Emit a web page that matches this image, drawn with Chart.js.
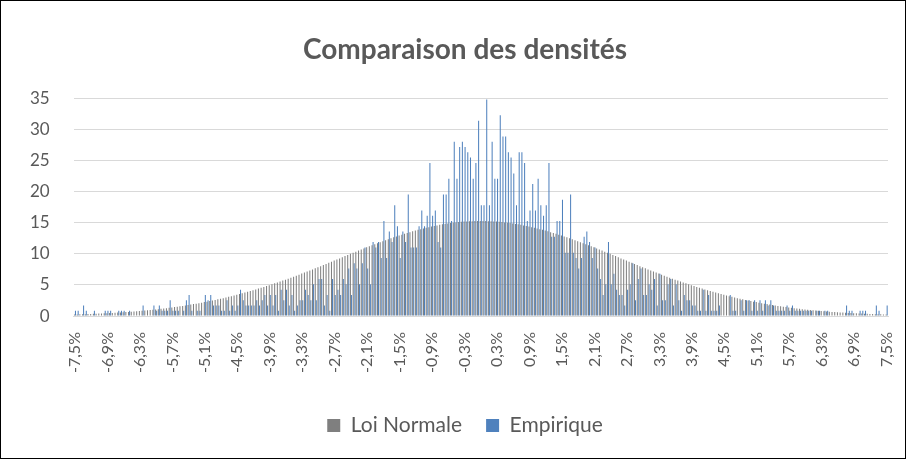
<!DOCTYPE html>
<html>
<head>
<meta charset="utf-8">
<script src="https://cdn.jsdelivr.net/npm/chart.js"></script>
<style>
  html, body { margin: 0; padding: 0; background: #fff; }
  #wrap { width: 906px; height: 459px; box-sizing: border-box; border: 1px solid #000; }
  canvas { display: block; }
</style>
</head>
<body>
<div id="wrap"><canvas id="densites" width="904" height="457"></canvas></div>
<script>
// Rendements de -7,5% a 7,5% par pas de 0,05% (301 classes)
const categories = [];
for (let i = 0; i <= 300; i++) categories.push(((-750 + i * 5) / 100).toFixed(2));

// Etiquettes visibles (une sur 12)
const tickLabels = ['-7,5%', '-6,9%', '-6,3%', '-5,7%', '-5,1%', '-4,5%', '-3,9%', '-3,3%', '-2,7%',
  '-2,1%', '-1,5%', '-0,9%', '-0,3%', '0,3%', '0,9%', '1,5%', '2,1%', '2,7%', '3,3%', '3,9%',
  '4,5%', '5,1%', '5,7%', '6,3%', '6,9%', '7,5%'];

// Densite de la loi normale
const loiNormale = [
  0.24,0.25,0.27,0.28,0.30,0.31,0.33,0.35,0.37,0.39,
  0.41,0.43,0.45,0.48,0.50,0.52,0.55,0.58,0.61,0.64,
  0.67,0.70,0.74,0.77,0.81,0.85,0.89,0.93,0.98,1.02,
  1.07,1.11,1.16,1.21,1.27,1.32,1.38,1.44,1.50,1.57,
  1.63,1.70,1.77,1.84,1.92,1.99,2.07,2.15,2.24,2.32,
  2.41,2.50,2.59,2.69,2.78,2.88,2.98,3.09,3.20,3.31,
  3.42,3.54,3.65,3.77,3.90,4.02,4.15,4.28,4.42,4.55,
  4.69,4.83,4.97,5.11,5.26,5.41,5.56,5.71,5.86,6.02,
  6.18,6.34,6.50,6.66,6.83,6.99,7.16,7.33,7.50,7.68,
  7.85,8.03,8.20,8.38,8.56,8.74,8.92,9.10,9.28,9.47,
  9.65,9.83,10.01,10.19,10.36,10.54,10.71,10.89,11.06,11.23,
  11.40,11.56,11.73,11.89,12.05,12.21,12.36,12.52,12.67,12.81,
  12.96,13.10,13.24,13.37,13.50,13.63,13.75,13.87,13.99,14.10,
  14.21,14.31,14.41,14.50,14.59,14.68,14.76,14.83,14.90,14.96,
  15.02,15.07,15.12,15.16,15.20,15.23,15.25,15.27,15.29,15.30,
  15.30,
  15.30,15.29,15.27,15.25,15.23,15.20,15.16,15.12,15.07,15.02,
  14.96,14.90,14.83,14.76,14.68,14.59,14.50,14.41,14.31,14.21,
  14.10,13.99,13.87,13.75,13.63,13.50,13.37,13.24,13.10,12.96,
  12.81,12.67,12.52,12.36,12.21,12.05,11.89,11.73,11.56,11.40,
  11.23,11.06,10.89,10.71,10.54,10.36,10.19,10.01,9.83,9.65,
  9.47,9.28,9.10,8.92,8.74,8.56,8.38,8.20,8.03,7.85,
  7.68,7.50,7.33,7.16,6.99,6.83,6.66,6.50,6.34,6.18,
  6.02,5.86,5.71,5.56,5.41,5.26,5.11,4.97,4.83,4.69,
  4.55,4.42,4.28,4.15,4.02,3.90,3.77,3.65,3.54,3.42,
  3.31,3.20,3.09,2.98,2.88,2.78,2.69,2.59,2.50,2.41,
  2.32,2.24,2.15,2.07,1.99,1.92,1.84,1.77,1.70,1.63,
  1.57,1.50,1.44,1.38,1.32,1.27,1.21,1.16,1.11,1.07,
  1.02,0.98,0.93,0.89,0.85,0.81,0.77,0.74,0.70,0.67,
  0.64,0.61,0.58,0.55,0.52,0.50,0.48,0.45,0.43,0.41,
  0.39,0.37,0.35,0.33,0.31,0.30,0.28,0.27,0.25,0.24
];

// Densite empirique (histogramme)
const empirique = [
  0.85,0.85,0,1.7,0.85,0,0,0.85,0,0,
  0,0.85,0.85,0.85,0,0,0.85,0.85,0.85,0,
  0.85,0,0,0,0,1.7,0,0,0,1.7,
  0.85,1.7,0.85,0.85,0.85,2.55,0.85,0.85,0.85,0,
  0.85,2.55,3.4,0.85,0,0.85,0.85,0,3.4,2.55,
  3.4,1.7,1.7,1.7,0.85,0.85,2.55,0.85,1.7,0.85,
  1.7,4.25,2.55,1.7,1.7,1.7,1.7,2.55,1.7,2.55,
  3.4,1.7,3.4,1.7,3.4,0.85,4.25,2.55,4.25,1.7,
  3.4,0.85,1.7,2.55,2.55,4.25,3.4,2.55,5.1,2.55,
  5.95,5.95,1.7,3.4,0.85,5.95,3.4,4.25,3.4,5.95,
  5.1,7.65,3.4,8.5,7.65,5.1,8.5,11.05,7.65,5.1,
  11.9,11.05,11.9,9.35,15.3,9.35,13.6,11.9,17.85,14.45,
  9.35,13.6,11.9,19.55,11.05,11.05,11.05,14.45,17.0,14.45,
  16.15,24.65,16.15,17.0,11.9,11.05,19.55,19.55,22.1,15.3,
  28.05,22.1,27.2,28.05,27.2,26.35,25.5,22.1,24.65,31.45,
  17.85,17.85,34.85,17.85,28.05,22.1,22.1,32.3,28.9,28.9,
  26.35,25.5,22.95,17.85,26.35,26.35,24.65,15.3,17.0,21.25,
  17.0,22.1,17.85,16.15,17.85,24.65,12.75,12.75,15.3,15.3,
  18.7,10.2,10.2,19.55,10.2,9.35,7.65,9.35,12.75,13.6,
  11.9,9.35,11.05,7.65,5.95,3.4,5.1,11.9,5.1,6.8,
  4.25,3.4,3.4,1.7,4.25,5.1,8.5,2.55,5.95,7.65,
  3.4,3.4,5.1,4.25,5.95,1.7,6.8,2.55,2.55,5.1,
  5.95,1.7,5.1,2.55,0.85,3.4,2.55,2.55,1.7,1.7,
  0.85,0.85,4.25,0.85,3.4,0.85,0.85,0.85,1.7,0,
  0,0,3.4,0.85,0.85,0,2.55,0.85,2.55,2.55,
  0.85,2.55,0.85,2.55,0.85,2.55,1.7,2.55,1.7,0.85,
  0.85,0.85,0.85,1.7,0.85,1.7,0.85,0.85,0.85,0.85,
  0.85,0.85,0.85,0,0.85,0.85,0,0.85,0.85,0,
  0,0,0,0,0,1.7,0.85,0.85,0,0,
  0.85,0.85,0.85,0,0,0,1.7,0.85,0,0,
  1.7
];

const textColor = '#595959';
const fontFamily = 'Lato, "Open Sans", sans-serif';

new Chart(document.getElementById('densites'), {
  type: 'bar',
  data: {
    labels: categories,
    datasets: [
      { label: 'Loi Normale', data: loiNormale, backgroundColor: '#7f7f7f',
        categoryPercentage: 0.76, barPercentage: 1.0 },
      { label: 'Empirique', data: empirique, backgroundColor: '#4f81bd',
        categoryPercentage: 0.76, barPercentage: 1.0 }
    ]
  },
  options: {
    responsive: false,
    animation: false,
    devicePixelRatio: 1,
    layout: { padding: { left: 28, right: 4, top: 10, bottom: 12 } },
    plugins: {
      title: {
        display: true,
        text: 'Comparaison des densités',
        color: textColor,
        font: { family: fontFamily, size: 28, weight: 'bold' },
        padding: { top: 22, bottom: 32 }
      },
      legend: {
        position: 'bottom',
        labels: {
          color: textColor,
          font: { family: fontFamily, size: 21 },
          boxWidth: 13,
          boxHeight: 13,
          padding: 24
        }
      },
      tooltip: { enabled: false }
    },
    scales: {
      x: {
        grid: { display: false, drawTicks: false },
        border: { display: true, color: '#d9d9d9', width: 1 },
        ticks: {
          autoSkip: false,
          minRotation: 90,
          maxRotation: 90,
          padding: 16,
          color: textColor,
          font: { family: fontFamily, size: 16 },
          callback: function(value, index) {
            return index % 12 === 0 ? tickLabels[index / 12] : '';
          }
        },
        afterFit: function(scale) {
          scale.height += 2;
          scale.paddingLeft = 0;
          scale.paddingRight = 17;
        }
      },
      y: {
        min: 0,
        max: 35,
        grid: { color: '#d9d9d9', drawTicks: false },
        border: { display: false },
        ticks: {
          stepSize: 5,
          padding: 24,
          color: textColor,
          font: { family: fontFamily, size: 17 }
        },
        afterFit: function(scale) { scale.width = 72.6 - 28; }
      }
    }
  }
});
</script>
</body>
</html>
